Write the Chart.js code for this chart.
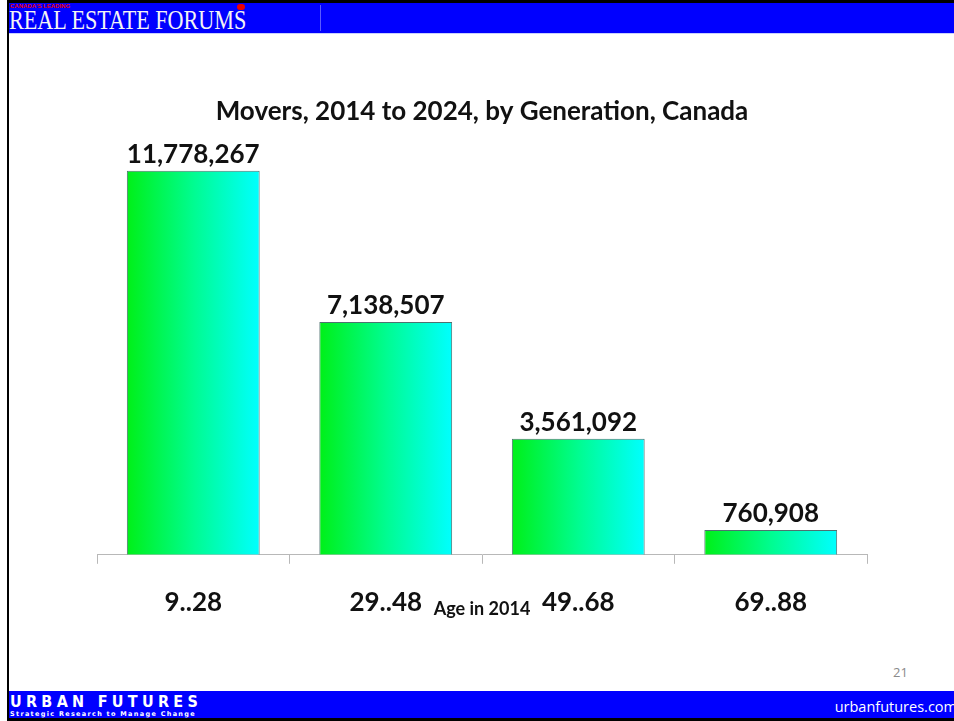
<!DOCTYPE html>
<html>
<head>
<meta charset="utf-8">
<script src="https://cdn.jsdelivr.net/npm/chart.js@4"></script>
<style>
  html, body { margin: 0; padding: 0; background: #fff; }
  #slide { position: relative; width: 954px; height: 721px; overflow: hidden; background: #fff; }
  #topbar { position: absolute; left: 7px; top: 0; width: 947px; height: 3px; background: #000; }
  #header { position: absolute; left: 9px; top: 3px; width: 945px; height: 30px; background: #0000ff; border-bottom: 1px solid #c8d0ff; }
  #header .small { position: absolute; left: 1px; top: 0px; font: bold 6px "Liberation Sans", sans-serif; color: #e00; }
  #header .big { position: absolute; left: 0px; top: 2px; font: 27px "Liberation Serif", serif; color: #f4f4f4; transform: scaleX(0.82); transform-origin: left top; }
  #header .sep { position: absolute; left: 311px; top: 2px; width: 1px; height: 26px; background: #5a5aff; }
  #header .leaf { position: absolute; left: 228px; top: 1px; width: 8px; height: 6px; background: #e00; border-radius: 3px; }
  #leftline { position: absolute; left: 7px; top: 0; width: 2px; height: 721px; background: #000; }
  #footer { position: absolute; left: 9px; top: 691px; width: 945px; height: 27px; background: #0000ff; }
  #bottomline { position: absolute; left: 7px; top: 718px; width: 947px; height: 3px; background: #000; }
  #footer .uf { position: absolute; left: 1px; top: 1px; font: bold 16px "DejaVu Sans Condensed", "DejaVu Sans", sans-serif; color: #fff; letter-spacing: 4.3px; }
  #footer .tag { position: absolute; left: 1px; top: 19px; font: bold 6.5px "DejaVu Sans", sans-serif; color: #fff; letter-spacing: 1.3px; }
  #footer .url { position: absolute; right: -3px; top: 6px; font: 14.5px "Open Sans", sans-serif; color: #fff; }
  #pagenum { position: absolute; left: 893px; top: 663px; font: 13px "Open Sans", sans-serif; color: #8a8a8a; }
  #chart { position: absolute; left: 0; top: 0; }
</style>
</head>
<body>
<div id="slide">
  <div id="header">
    <div class="small">CANADA'S LEADING</div>
    <div class="big">REAL ESTATE FORUMS</div>
    <div class="leaf"></div>
    <div class="sep"></div>
  </div>
  <div id="topbar"></div>
  <div id="leftline"></div>
  <div id="footer">
    <div class="uf">URBAN FUTURES</div>
    <div class="tag">Strategic Research to Manage Change</div>
    <div class="url">urbanfutures.com</div>
  </div>
  <div id="bottomline"></div>
  <div id="pagenum">21</div>
  <canvas id="chart" width="954" height="721"></canvas>
</div>
<script>
// Данные графика
const generations = ['9..28', '29..48', '49..68', '69..88'];
const movers = [11778267, 7138507, 3561092, 760908];
const chartTitle = 'Movers, 2014 to 2024, by Generation, Canada';
const axisTitle = 'Age in 2014';

const FONT = 'Lato, "Open Sans", sans-serif';
const BAR_PCT = 0.69;

// Градиент для каждого столбца (зелёный -> бирюзовый)
function barGradient(ctx) {
  const chart = ctx.chart;
  const area = chart.chartArea;
  if (!area || !chart.scales.x) return '#00ff80';
  const x = chart.scales.x.getPixelForValue(ctx.dataIndex);
  const half = (area.right - area.left) / generations.length * BAR_PCT / 2;
  const g = chart.ctx.createLinearGradient(x - half, 0, x + half, 0);
  g.addColorStop(0, '#00f018');
  g.addColorStop(0.5, '#00fc90');
  g.addColorStop(1, '#00ffff');
  return g;
}

// Подписи значений над столбцами и подпись оси
const valueLabels = {
  id: 'valueLabels',
  afterDatasetsDraw(chart) {
    const ctx = chart.ctx;
    const meta = chart.getDatasetMeta(0);
    ctx.save();
    ctx.fillStyle = '#111';
    ctx.font = 'bold 26px ' + FONT;
    ctx.textAlign = 'center';
    ctx.textBaseline = 'middle';
    meta.data.forEach((bar, i) => {
      ctx.fillText(movers[i].toLocaleString('en-US'), bar.x, bar.y - 16);
    });
    const xs = chart.scales.x;
    ctx.font = 'bold 18px ' + FONT;
    ctx.fillText(axisTitle, (xs.left + xs.right) / 2, chart.chartArea.bottom + 54);
    ctx.restore();
  }
};

new Chart(document.getElementById('chart').getContext('2d'), {
  type: 'bar',
  data: {
    labels: generations,
    datasets: [{
      data: movers,
      backgroundColor: barGradient,
      borderColor: '#4f7070',
      borderWidth: 1,
      borderSkipped: 'bottom',
      barPercentage: BAR_PCT,
      categoryPercentage: 1
    }]
  },
  options: {
    responsive: false,
    animation: false,
    layout: { padding: { left: 97, right: 87, top: 0, bottom: 80 } },
    plugins: {
      legend: { display: false },
      tooltip: { enabled: false },
      title: {
        display: true,
        text: chartTitle,
        color: '#111',
        font: { family: FONT, size: 26, weight: 'bold' },
        padding: { top: 96, bottom: 20 }
      }
    },
    scales: {
      x: {
        grid: { drawOnChartArea: false, drawTicks: true, tickLength: 9, color: '#b8b8b8' },
        border: { color: '#b8b8b8', width: 1 },
        ticks: { color: '#111', padding: 23, font: { family: FONT, size: 26, weight: 'bold' } }
      },
      y: {
        display: false,
        min: 0,
        max: 12500000
      }
    }
  },
  plugins: [valueLabels]
});
</script>
</body>
</html>
